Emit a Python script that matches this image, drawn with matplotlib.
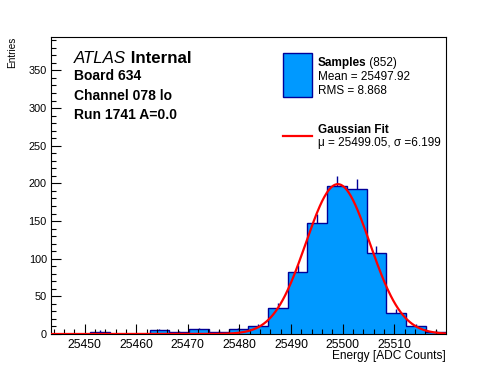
import numpy as np
import matplotlib
matplotlib.use("Agg")
import matplotlib.pyplot as plt
from matplotlib.patches import Rectangle
from matplotlib.lines import Line2D
from matplotlib.ticker import MultipleLocator

plt.rcParams["font.family"] = ["Liberation Sans", "DejaVu Sans"]

# histogram
x_lo, x_hi = 25443.5, 25519.9
counts = [0, 0, 3, 0, 0, 5, 2, 6, 3, 6, 10, 35, 82, 147, 196, 192, 107, 28, 10, 3]
edges = np.linspace(x_lo, x_hi, len(counts) + 1)

# gaussian fit
fit_mu = 25499.05
fit_sigma = 6.199
fit_amp = 199.0

n_samples = 852
mean_val = 25497.92
rms_val = 8.868

W, H = 496, 372
fill_col = "#0099ff"
edge_col = "#000099"


def fx(x):
    return x / W


def fy(y):
    return 1 - y / H


fig = plt.figure(figsize=(W / 100, H / 100), dpi=100)
ax = fig.add_axes([fx(51), fy(334), fx(445.5) - fx(51), fy(37.3) - fy(334)])

counts = np.array(counts, dtype=float)
centers = 0.5 * (edges[:-1] + edges[1:])
ax.stairs(counts, edges, fill=True, color=fill_col, zorder=1)
ax.stairs(counts, edges, color=edge_col, linewidth=1.0, zorder=1.5)
nz = counts > 0
ax.vlines(centers[nz], counts[nz], counts[nz] + np.sqrt(counts[nz]),
          color=edge_col, linewidth=1.0, zorder=1.5)

xs = np.linspace(x_lo, x_hi, 500)
ax.plot(xs, fit_amp * np.exp(-0.5 * ((xs - fit_mu) / fit_sigma) ** 2),
        color="#ff0000", linewidth=1.6, zorder=3)

ax.set_xlim(x_lo, x_hi)
ax.set_ylim(0, 394)
ax.xaxis.set_major_locator(MultipleLocator(10))
ax.xaxis.set_minor_locator(MultipleLocator(2))
ax.yaxis.set_major_locator(MultipleLocator(50))
ax.yaxis.set_minor_locator(MultipleLocator(10))
ax.tick_params(which="both", direction="in", top=False, right=False, width=0.8)
ax.tick_params(axis="x", which="major", length=7, pad=3.5, labelsize=8.8)
ax.tick_params(axis="x", which="minor", length=3.4)
ax.tick_params(axis="y", which="major", length=7.5, pad=3, labelsize=7.8)
ax.tick_params(axis="y", which="minor", length=3.6)
for s in ax.spines.values():
    s.set_linewidth(0.8)

fig.text(fx(446), fy(359), "Energy [ADC Counts]", ha="right", va="baseline", fontsize=8.6)
fig.text(fx(12), fy(37), "Entries", ha="center", va="top", rotation=90, fontsize=7.2)

fig.canvas.draw()
r = fig.canvas.get_renderer()


def two_part(x, y, a, b, a_kw, b_kw, size):
    t = fig.text(fx(x), fy(y), a, va="baseline", fontsize=size, **a_kw)
    bb = t.get_window_extent(r)
    fig.text(bb.x1 / W, fy(y), b, va="baseline", fontsize=size, **b_kw)


two_part(74, 63.3, "ATLAS", " Internal", {"style": "italic"}, {"weight": "bold"}, 12.2)
fig.text(fx(74), fy(80), "Board 634", va="baseline", fontsize=10, weight="bold")
fig.text(fx(74), fy(100), "Channel 078 lo", va="baseline", fontsize=10, weight="bold")
fig.text(fx(74), fy(119), "Run 1741 A=0.0", va="baseline", fontsize=10, weight="bold")

# legend box
fig.patches.append(Rectangle((fx(283.3), fy(96.7)), fx(311.7) - fx(283.3), fy(53.3) - fy(96.7),
                             transform=fig.transFigure, facecolor=fill_col,
                             edgecolor=edge_col, linewidth=1.0))
two_part(317.7, 65.7, "Samples", f" ({n_samples})", {"weight": "bold"}, {}, 8.5)
fig.text(fx(317.7), fy(80), f"Mean = {mean_val:.2f}", va="baseline", fontsize=8.5)
fig.text(fx(317.7), fy(94), f"RMS = {rms_val:.3f}", va="baseline", fontsize=8.5)

fig.lines.append(Line2D([fx(283.3), fx(311.7)], [fy(136), fy(136)], transform=fig.transFigure,
                        color="#ff0000", linewidth=1.6))
fig.text(fx(317.7), fy(133.3), "Gaussian Fit", va="baseline", fontsize=8.5, weight="bold")
fig.text(fx(317.7), fy(146), f"\u03bc = {fit_mu:.2f}, \u03c3 ={fit_sigma:.3f}", va="baseline", fontsize=8.5)

fig.savefig("out.png", dpi=100)
